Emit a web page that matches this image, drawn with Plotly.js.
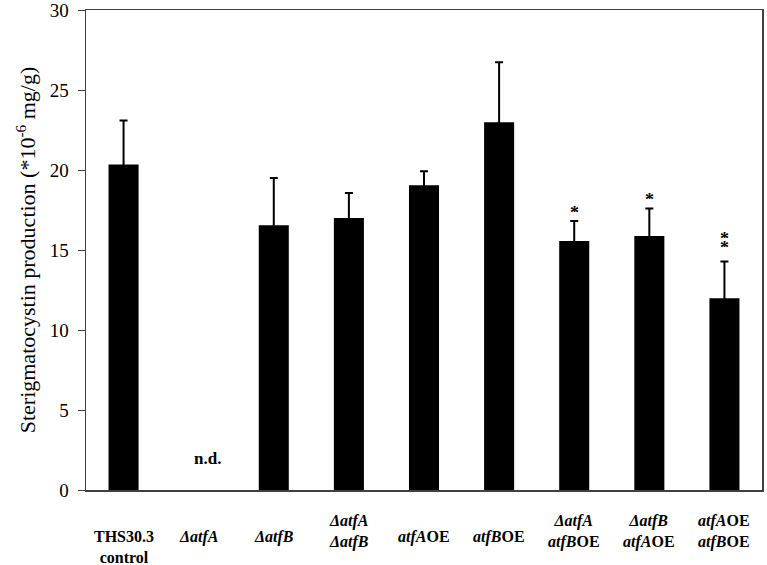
<!DOCTYPE html>
<html>
<head>
<meta charset="utf-8">
<script src="https://cdn.plot.ly/plotly-3.0.1.min.js"></script>
<style>
  body { margin: 0; background: #fff; }
  #chart { width: 767px; height: 565px; }
</style>
</head>
<body>
<div id="chart"></div>
<script>
// strains, in plot order
var strains = ["THS30.3", "dA", "dB", "dAdB", "AOE", "BOE", "dA_BOE", "dB_AOE", "AOE_BOE"];
var labels = [
  "THS30.3<br>control",
  "<i>ΔatfA</i>",
  "<i>ΔatfB</i>",
  "<i>ΔatfA</i><br><i>ΔatfB</i>",
  "<i>atfA</i>OE",
  "<i>atfB</i>OE",
  "<i>ΔatfA</i><br><i>atfB</i>OE",
  "<i>ΔatfB</i><br><i>atfA</i>OE",
  "<i>atfA</i>OE<br><i>atfB</i>OE"
];
// sterigmatocystin, *10^-6 mg/g (null = not detected)
var production = [20.35, null, 16.55, 17.0, 19.05, 22.98, 15.56, 15.88, 11.98];
var sd = [2.75, null, 2.95, 1.56, 0.87, 3.75, 1.25, 1.72, 2.3];
var stars = ["", "", "", "", "", "", "*", "*", "**"];

var trace = {
  type: "bar",
  x: strains,
  y: production,
  width: 0.4,
  marker: { color: "#000" },
  error_y: {
    type: "data",
    array: sd,
    visible: true,
    color: "#000",
    thickness: 2,
    width: 4
  },
  hoverinfo: "none"
};

var serif = "Liberation Serif";
var annotations = [];
strains.forEach(function (s, i) {
  var lines = labels[i].split("<br>").length;
  var shift = i === 0 ? -57 : (lines === 2 ? -41 : -47);
  annotations.push({
    x: s, y: 0, xref: "x", yref: "y",
    text: labels[i],
    showarrow: false,
    yanchor: "middle",
    yshift: shift,
    font: { family: serif, size: 16, color: "#000", weight: "bold" }
  });
  // significance marks, stacked one above the other
  for (var k = 0; k < stars[i].length; k++) {
    annotations.push({
      x: s, y: production[i] + sd[i], xref: "x", yref: "y",
      text: "*",
      showarrow: false,
      height: 9,
      valign: "top",
      yanchor: "bottom",
      yshift: (stars[i].length > 1 ? 13 : 7) + k * 9,
      font: { family: serif, size: 18, color: "#000", weight: "bold" }
    });
  }
});
annotations.push({
  x: strains[1], y: 2, xref: "x", yref: "y",
  text: "n.d.",
  showarrow: false,
  xshift: 9,
  font: { family: serif, size: 17, color: "#000", weight: "bold" }
});

var layout = {
  width: 767,
  height: 565,
  margin: { l: 86, r: 5, t: 10, b: 75 },
  paper_bgcolor: "#fff",
  plot_bgcolor: "#fff",
  showlegend: false,
  xaxis: {
    showticklabels: false,
    ticks: "",
    showline: true,
    mirror: true,
    linecolor: "#404040",
    linewidth: 1.5,
    showgrid: false,
    zeroline: false
  },
  yaxis: {
    range: [0, 30],
    dtick: 5,
    ticks: "outside",
    ticklen: 7,
    tickcolor: "#404040",
    ticklabelstandoff: 5,
    ticklabeloverflow: "allow",
    showline: true,
    mirror: true,
    linecolor: "#404040",
    linewidth: 1.5,
    showgrid: false,
    zeroline: false,
    tickfont: { family: serif, size: 19, color: "#000" },
    title: {
      text: "Sterigmatocystin production (*10<sup>-6</sup> mg/g)",
      font: { family: serif, size: 22, color: "#000" },
      standoff: 8
    }
  },
  annotations: annotations
};

Plotly.newPlot("chart", [trace], layout, { staticPlot: true });
</script>
</body>
</html>
